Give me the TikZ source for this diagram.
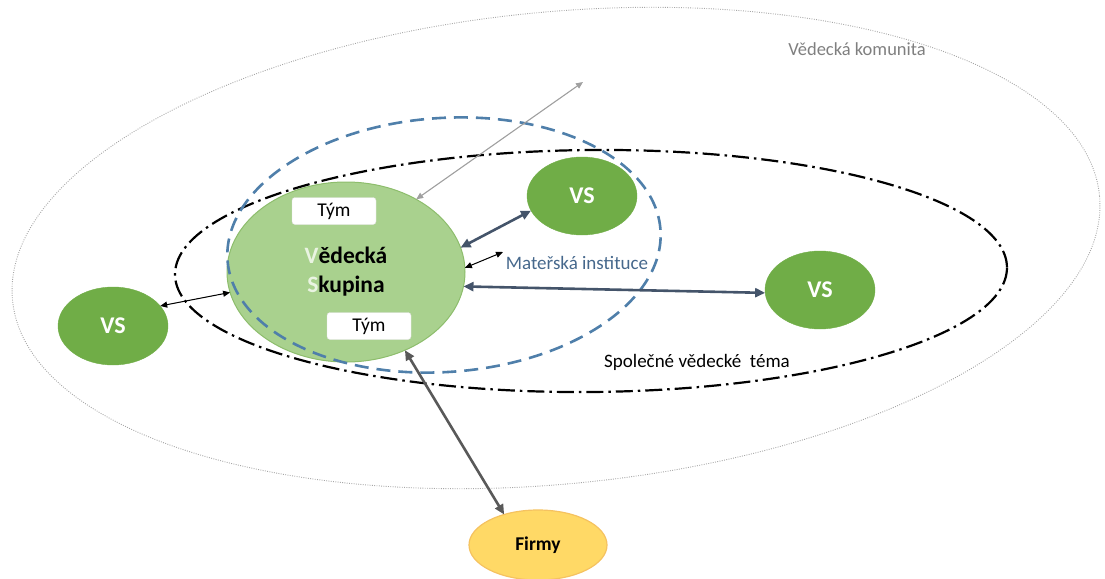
\documentclass[tikz,border=0pt]{standalone}
\usepackage{fontspec}
\setmainfont{Carlito}
\usetikzlibrary{shapes.geometric,arrows.meta}

\definecolor{commgray}{HTML}{A6A6A6}
\definecolor{commtext}{HTML}{7F7F7F}
\definecolor{instblue}{HTML}{4F7FAA}
\definecolor{insttext}{HTML}{46688C}
\definecolor{groupfill}{HTML}{A9D18E}
\definecolor{groupline}{HTML}{8DBD6C}
\definecolor{letterlight}{HTML}{EAF4E2}
\definecolor{vsgreen}{HTML}{70AD47}
\definecolor{firmfill}{HTML}{FFD966}
\definecolor{firmline}{HTML}{F5C260}
\definecolor{slate}{HTML}{44546A}
\definecolor{darkgrey}{HTML}{595959}
\definecolor{lightarrow}{HTML}{A0A0A0}

\begin{document}
\begin{tikzpicture}[x=1pt,y=-1pt,
  region/.style={ellipse, inner sep=0pt, outer sep=0pt},
  vsnode/.style={ellipse, inner sep=0pt, outer sep=0pt, fill=vsgreen, draw=vsgreen,
    minimum width=110pt, minimum height=78pt, text=white,
    font={\fontsize{24}{28}\selectfont\bfseries}},
  tymbox/.style={rectangle, rounded corners=3pt, fill=white, draw=black!12,
    minimum width=84pt, minimum height=27pt, inner sep=0pt,
    font={\fontsize{19.5}{23}\selectfont}},
  lbl/.style={inner sep=0pt, font={\fontsize{19}{23}\selectfont}},
  thinlink/.style={line width=1pt,
    arrows={Triangle[length=7pt,width=6pt]-Triangle[length=7pt,width=6pt]}},
  thicklink/.style={line width=2.6pt,
    arrows={Triangle[length=10pt,width=9pt]-Triangle[length=10pt,width=9pt]}}
]
\useasboundingbox (0,0) rectangle (1105,578);

% scientific community
\node[region, draw=commgray, line width=0.9pt, dash pattern=on 0.9pt off 1.4pt,
  minimum width=1092pt, minimum height=472pt, rotate=5.5] (komunita) at (556,248) {};

% research group
\node[region, fill=groupfill, draw=groupline, line width=1pt,
  minimum width=238pt, minimum height=180pt, align=center,
  font={\fontsize{23.5}{29}\selectfont\bfseries}] (vsk) at (346,272)
  {{\color{letterlight}V}ědecká\\{\color{letterlight}S}kupina};

% other groups and companies
\node[vsnode] (vsTop) at (582,196) {VS};
\node[vsnode] (vsRight) at (820,290) {VS};
\node[vsnode] (vsLeft) at (113,326) {VS};
\node[region, fill=firmfill, draw=firmline, line width=1.2pt,
  minimum width=138pt, minimum height=70pt,
  font={\fontsize{19.5}{23}\selectfont\bfseries}] (firmy) at (538,545) {Firmy};

% common research topic
\node[region, draw=black, line width=2.2pt,
  dash pattern=on 17pt off 5pt on 2.5pt off 5pt,
  minimum width=832pt, minimum height=242pt, rotate=0.5] (tema) at (591,271) {};

% parent institution
\node[region, draw=instblue, line width=2.6pt, dash pattern=on 14pt off 8pt,
  minimum width=434pt, minimum height=254pt, rotate=4] (instituce) at (444,245) {};

% teams
\node[tymbox] (tym1) at (334,211) {Tým};
\node[tymbox] (tym2) at (369,326) {Tým};

% labels
\node[lbl, text=commtext, font={\fontsize{18.5}{22}\selectfont}] (komlabel) at (857,49) {Vědecká komunita};
\node[lbl, text=insttext] (instlabel) at (577,263) {Mateřská instituce};
\node[lbl] (temalabel) at (697,362) {Společné vědecké\ \ téma};

% free ends
\coordinate (outward) at (583,82);
\coordinate (instend) at (503,252);

% links
\draw[thinlink, draw=lightarrow, fill=lightarrow, line width=1.1pt] (vsk.46) -- (outward);
\draw[thicklink, draw=slate, fill=slate] (vsk.12) -- (vsTop.196);
\draw[thinlink, draw=black, fill=black] (vsk.2) -- (instend);
\draw[thicklink, draw=slate, fill=slate] (vsk.-7) -- (vsRight.183);
\draw[thinlink, draw=black, fill=black] (vsk.190) -- (vsLeft.23);
\draw[thicklink, draw=darkgrey, fill=darkgrey] (vsk.-53) -- (firmy.138);
\end{tikzpicture}
\end{document}
